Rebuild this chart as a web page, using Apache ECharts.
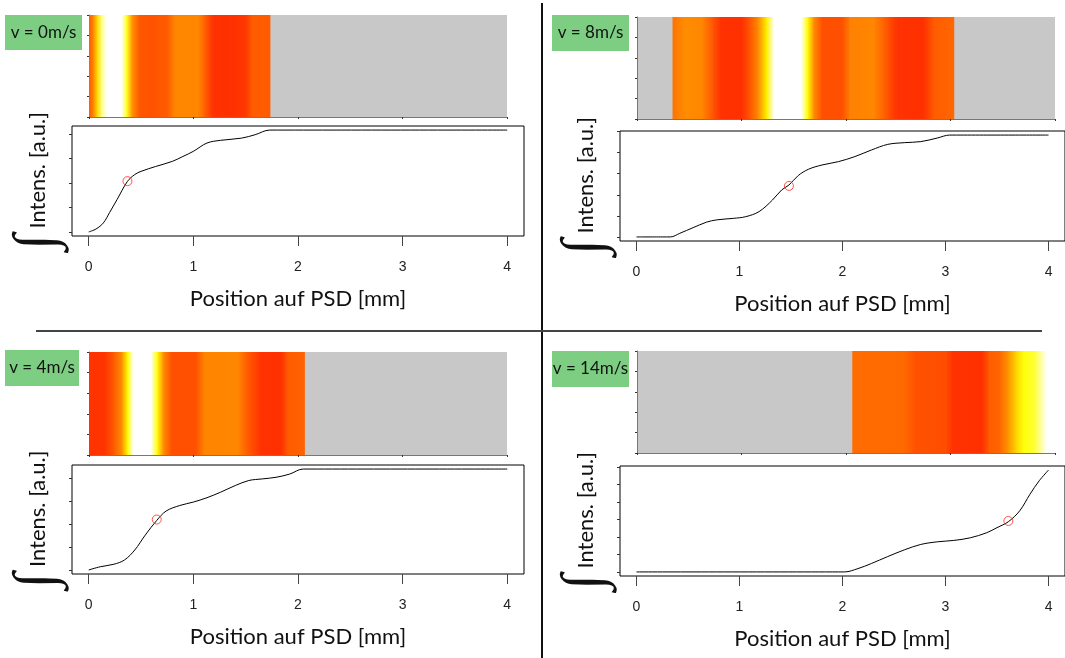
<!DOCTYPE html>
<html><head><meta charset="utf-8">
<script src="https://cdn.jsdelivr.net/npm/echarts@6/dist/echarts.min.js"></script>
<style>html,body{margin:0;padding:0;background:#fff}#c{width:1065px;height:658px}</style>
</head><body><div id="c"></div>
<script>
// ---------- data ----------
const panelLabels = ['v = 0m/s', 'v = 8m/s', 'v = 4m/s', 'v = 14m/s'];
const xTickValues = [0, 1, 2, 3, 4];
const heatYTicks = [0, 0.2, 0.4, 0.6, 0.8, 1];

// integrated intensity curves
const p1X = [0, 0.07, 0.14, 0.20, 0.27, 0.37, 0.44, 0.50, 0.64, 0.80, 0.90, 1.00, 1.13, 1.26, 1.46, 1.59, 1.73, 4.00];
const p1Y = [0, 0.12, 0.37, 0.80, 1.32, 2.07, 2.35, 2.48, 2.68, 2.89, 3.09, 3.30, 3.64, 3.75, 3.84, 3.98, 4.17, 4.17];
const p2X = [0, 0.25, 0.33, 0.42, 0.55, 0.68, 0.78, 0.94, 1.06, 1.19, 1.32, 1.41, 1.48, 1.57, 1.67, 1.80, 1.96, 2.12, 2.28, 2.44, 2.60, 2.76, 2.92, 3.04, 4.00];
const p2Y = [0, 0, 0, 0.17, 0.44, 0.70, 0.81, 0.88, 0.96, 1.20, 1.75, 2.23, 2.46, 2.91, 3.21, 3.41, 3.57, 3.81, 4.12, 4.39, 4.47, 4.52, 4.69, 4.83, 4.83];
const p3X = [0, 0.11, 0.24, 0.34, 0.44, 0.54, 0.65, 0.74, 0.87, 1.00, 1.13, 1.26, 1.40, 1.53, 1.66, 1.79, 1.92, 2.05, 4.00];
const p3Y = [0, 0.14, 0.25, 0.43, 0.87, 1.52, 2.16, 2.57, 2.81, 2.96, 3.15, 3.39, 3.68, 3.90, 3.97, 4.04, 4.18, 4.40, 4.40];
const p4X = [0, 1.90, 2.02, 2.15, 2.28, 2.44, 2.60, 2.76, 2.92, 3.08, 3.24, 3.40, 3.50, 3.61, 3.72, 3.82, 3.91, 4.00];
const p4Y = [0, 0, 0, 0.19, 0.48, 0.88, 1.26, 1.57, 1.72, 1.80, 1.95, 2.24, 2.53, 2.87, 3.49, 4.44, 5.21, 5.82];

// red circles (half of total intensity)
const p1Median = [0.37, 2.08];
const p2Median = [1.48, 2.42];
const p3Median = [0.65, 2.20];
const p4Median = [3.61, 2.91];

// y tick values of the curve panels
const p1YTicks = [0, 1, 2, 3, 4];
const p2YTicks = [0, 1, 2, 3, 4, 5];
const p3YTicks = [0, 1, 2, 3, 4];
const p4YTicks = [0, 1, 2, 3, 4, 5, 6];

// intensity strip: colour level (0 = red ... 1 = white) at positions
const p1HeatX = [0, 0.04, 0.08, 0.12, 0.17, 0.31, 0.36, 0.41, 0.48, 0.60, 0.75, 0.82, 1.04, 1.10, 1.18, 1.35, 1.50, 1.56, 1.73];
const p1HeatL = [0.32, 0.48, 0.68, 0.88, 1.0, 1.0, 0.78, 0.52, 0.3, 0.28, 0.32, 0.48, 0.48, 0.35, 0.1, 0.08, 0.14, 0.32, 0.32];
const p2HeatX = [0.34, 0.40, 0.46, 0.62, 0.72, 0.80, 1.00, 1.08, 1.16, 1.24, 1.31, 1.57, 1.63, 1.69, 1.77, 1.96, 2.04, 2.26, 2.36, 2.48, 2.74, 2.84, 3.03];
const p2HeatL = [0.40, 0.46, 0.5, 0.48, 0.3, 0.1, 0.09, 0.3, 0.5, 0.72, 1.0, 1.0, 0.75, 0.5, 0.27, 0.27, 0.46, 0.48, 0.34, 0.1, 0.09, 0.32, 0.36];
const p3HeatX = [0, 0.15, 0.24, 0.31, 0.37, 0.42, 0.59, 0.65, 0.71, 0.79, 1.02, 1.10, 1.42, 1.50, 1.64, 1.84, 1.90, 2.06];
const p3HeatL = [0.1, 0.12, 0.32, 0.5, 0.75, 1.0, 1.0, 0.76, 0.5, 0.27, 0.27, 0.47, 0.48, 0.34, 0.1, 0.09, 0.32, 0.34];
const p4HeatX = [2.06, 2.55, 2.66, 2.95, 3.02, 3.30, 3.37, 3.47, 3.55, 3.63, 3.70, 3.80, 3.87, 3.92, 4.0];
const p4HeatL = [0.38, 0.37, 0.28, 0.26, 0.1, 0.09, 0.32, 0.36, 0.52, 0.66, 0.76, 0.8, 0.92, 1.0, 1.0];

// ---------- styling / layout ----------
const heatPalette = ['#ff2200', '#ff4a00', '#ff8c00', '#ffff00', '#ffffff'];
const FONT = 'Lato';
const layouts = [
  {heat: {left: 89, top: 15, width: 418, height: 102}, box: {left: 72, top: 126, width: 452, height: 110}, label: {x: 5, y: 15, w: 77, h: 35}},
  {heat: {left: 637, top: 17, width: 418, height: 102}, box: {left: 620, top: 131, width: 452, height: 110}, label: {x: 552, y: 15, w: 77, h: 36}},
  {heat: {left: 89, top: 352, width: 418, height: 103}, box: {left: 72, top: 465, width: 452, height: 109}, label: {x: 5, y: 350, w: 74, h: 36}},
  {heat: {left: 637, top: 351, width: 418, height: 102}, box: {left: 620, top: 466, width: 452, height: 110}, label: {x: 552, y: 351, w: 77, h: 36}}
];
const panels = [
  {x: p1X, y: p1Y, med: p1Median, yt: p1YTicks, hx: p1HeatX, hl: p1HeatL},
  {x: p2X, y: p2Y, med: p2Median, yt: p2YTicks, hx: p2HeatX, hl: p2HeatL},
  {x: p3X, y: p3Y, med: p3Median, yt: p3YTicks, hx: p3HeatX, hl: p3HeatL},
  {x: p4X, y: p4Y, med: p4Median, yt: p4YTicks, hx: p4HeatX, hl: p4HeatL}
];

function heatRender(params, api) {
  const x0 = api.value(0), x1 = api.value(1), l0 = api.value(2), l1 = api.value(3);
  const a = api.coord([x0, 1]);
  const b = api.coord([x1, 0]);
  return {
    type: 'rect',
    shape: {x: a[0], y: a[1], width: b[0] - a[0] + 0.6, height: b[1] - a[1]},
    style: {fill: new echarts.graphic.LinearGradient(0, 0, 1, 0, [
      {offset: 0, color: echarts.color.lerp(l0, heatPalette)},
      {offset: 1, color: echarts.color.lerp(l1, heatPalette)}
    ])}
  };
}

const grid = [], xAxis = [], yAxis = [], series = [], graphic = [];
panels.forEach((p, i) => {
  const L = layouts[i];
  const gh = 2 * i, gl = 2 * i + 1;
  // strip grid
  grid.push(Object.assign({show: true, backgroundColor: '#c8c8c8', borderWidth: 0}, L.heat));
  xAxis.push({gridIndex: gh, type: 'value', min: 0, max: 4, interval: 1,
    axisLine: {show: true, onZero: false, lineStyle: {color: '#777', width: 1}},
    axisTick: {show: true, length: 2, lineStyle: {color: '#333'}},
    axisLabel: {show: false}, splitLine: {show: false}});
  yAxis.push({gridIndex: gh, type: 'value', min: 0, max: 1, interval: 0.2,
    axisLine: {show: true, onZero: false, lineStyle: {color: '#777', width: 1}},
    axisTick: {show: true, length: 2, customValues: heatYTicks, lineStyle: {color: '#333'}},
    axisLabel: {show: false}, splitLine: {show: false}});
  const hd = [];
  for (let k = 0; k < p.hx.length - 1; k++) hd.push([p.hx[k], p.hx[k + 1], p.hl[k], p.hl[k + 1]]);
  series.push({type: 'custom', xAxisIndex: gh, yAxisIndex: gh, renderItem: heatRender,
    encode: {x: [0, 1], y: [2, 3]}, data: hd, silent: true, clip: true});

  // curve grid
  grid.push(Object.assign({show: true, backgroundColor: '#fff', borderColor: '#000', borderWidth: 1}, L.box));
  const xr = xTickValues[xTickValues.length - 1] - xTickValues[0];
  const ymax = Math.max(...p.y), ymin = Math.min(...p.y);
  xAxis.push({gridIndex: gl, type: 'value', min: xTickValues[0] - 0.04 * xr, max: xTickValues[xTickValues.length - 1] + 0.04 * xr,
    axisLine: {show: false, onZero: false},
    axisTick: {show: true, length: 10, customValues: xTickValues, lineStyle: {color: '#444'}},
    axisLabel: {show: true, customValues: xTickValues, margin: 24, fontSize: 14, fontFamily: 'Liberation Sans', color: '#222'},
    splitLine: {show: false},
    name: 'Position auf PSD [mm]', nameLocation: 'middle', nameGap: 52,
    nameTextStyle: {fontSize: 22, fontFamily: FONT, color: '#111'}});
  yAxis.push({gridIndex: gl, type: 'value', min: ymin - 0.04 * (ymax - ymin), max: ymax + 0.04 * (ymax - ymin),
    axisLine: {show: false, onZero: false},
    axisTick: {show: true, length: 3, customValues: p.yt, lineStyle: {color: '#333'}},
    axisLabel: {show: false}, splitLine: {show: false},
    name: '{i|∫}{t| Intens. [a.u.]}', nameLocation: 'middle', nameRotate: 90, nameGap: 21,
    nameTextStyle: {rich: {
      i: {fontSize: 58, fontFamily: 'DejaVu Sans', fontWeight: 200, color: '#111', lineHeight: 26, verticalAlign: 'middle'},
      t: {fontSize: 22, fontFamily: FONT, color: '#111', lineHeight: 26, verticalAlign: 'middle'}}}});
  series.push({type: 'line', xAxisIndex: gl, yAxisIndex: gl, data: p.x.map((v, k) => [v, p.y[k]]),
    showSymbol: false, smooth: 0.35, lineStyle: {color: '#000', width: 1}, silent: true});
  series.push({type: 'scatter', xAxisIndex: gl, yAxisIndex: gl, data: [p.med], symbol: 'circle', symbolSize: 9,
    itemStyle: {color: 'rgba(0,0,0,0)', borderColor: '#ff2a1a', borderWidth: 1}, z: 5, silent: true});

  // speed label
  graphic.push({type: 'rect', shape: {x: L.label.x, y: L.label.y, width: L.label.w, height: L.label.h},
    style: {fill: '#7dce82'}, silent: true});
  graphic.push({type: 'text', x: L.label.x + L.label.w / 2, y: L.label.y + L.label.h / 2,
    style: {text: panelLabels[i], fontSize: 17, fontFamily: FONT, fill: '#111', align: 'center', verticalAlign: 'middle'}, silent: true});
});
graphic.push({type: 'line', shape: {x1: 542, y1: 3, x2: 542, y2: 658}, style: {stroke: '#111', lineWidth: 2}, silent: true});
graphic.push({type: 'line', shape: {x1: 36, y1: 331, x2: 1042, y2: 331}, style: {stroke: '#444', lineWidth: 2}, silent: true});

const chart = echarts.init(document.getElementById('c'), null, {renderer: 'canvas'});
chart.setOption({
  animation: false,
  backgroundColor: '#fff',
  textStyle: {fontFamily: FONT},
  grid, xAxis, yAxis, series, graphic
});
</script></body></html>
